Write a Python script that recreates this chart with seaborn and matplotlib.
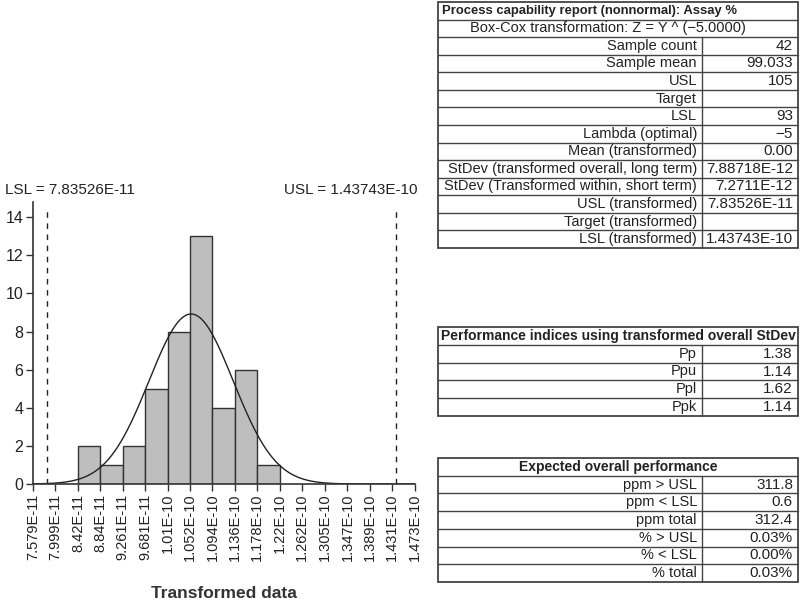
import numpy as np
import pandas as pd
import matplotlib
matplotlib.use("Agg")
import matplotlib.pyplot as plt
from matplotlib import font_manager
import seaborn as sns

sns.set_theme(style="white")
names = {f.name for f in font_manager.fontManager.ttflist}
FONT = "Liberation Sans Narrow" if "Liberation Sans Narrow" in names else "Liberation Sans"
plt.rcParams["font.family"] = [FONT, "DejaVu Sans"]

# ---------------- data ----------------
tick_labels = ["7.579E-11", "7.999E-11", "8.42E-11", "8.84E-11", "9.261E-11", "9.681E-11",
               "1.01E-10", "1.052E-10", "1.094E-10", "1.136E-10", "1.178E-10", "1.22E-10",
               "1.262E-10", "1.305E-10", "1.347E-10", "1.389E-10", "1.431E-10", "1.473E-10"]
bin_edges = [8.42e-11, 8.84e-11, 9.261e-11, 9.681e-11, 1.01e-10, 1.052e-10,
             1.094e-10, 1.136e-10, 1.178e-10, 1.22e-10]
bin_counts = [2, 1, 2, 5, 8, 13, 4, 6, 1]
lsl_value = 7.83526e-11
usl_value = 1.43743e-10
curve_mean = 1.0541e-10
curve_sd = 7.88718e-12
sample_n = 42
y_ticks = [0, 2, 4, 6, 8, 10, 12, 14]

t1_title = "Process capability report (nonnormal): Assay %"
t1_sub = "Box-Cox transformation: Z = Y ^ (\u22125.0000)"
t1_labels = ["Sample count", "Sample mean", "USL", "Target", "LSL", "Lambda (optimal)",
             "Mean (transformed)", "StDev (transformed overall, long term)",
             "StDev (Transformed within, short term)", "USL (transformed)",
             "Target (transformed)", "LSL (transformed)"]
t1_values = ["42", "99.033", "105", "", "93", "\u22125", "0.00", "7.88718E-12",
             "7.2711E-12", "7.83526E-11", "", "1.43743E-10"]
t2_title = "Performance indices using transformed overall StDev"
t2_labels = ["Pp", "Ppu", "Ppl", "Ppk"]
t2_values = ["1.38", "1.14", "1.62", "1.14"]
t3_title = "Expected overall performance"
t3_labels = ["ppm > USL", "ppm < LSL", "ppm total", "% > USL", "% < LSL", "% total"]
t3_values = ["311.8", "0.6", "312.4", "0.03%", "0.00%", "0.03%"]

# ---------------- figure ----------------
W, H = 800, 605
fig = plt.figure(figsize=(W / 100, H / 100), dpi=100)
fig.patch.set_facecolor("white")
TXT = "#222222"

def frac(x0, y0, x1, y1):
    return [x0 / W, 1 - y1 / H, (x1 - x0) / W, (y1 - y0) / H]

ax = fig.add_axes(frac(33, 202, 414.7, 484))
tick_vals = [float(t) for t in tick_labels]
centers = [(a + b) / 2 for a, b in zip(bin_edges[:-1], bin_edges[1:])]
df = pd.DataFrame({"z": centers, "n": bin_counts})
sns.histplot(data=df, x="z", weights="n", bins=bin_edges, ax=ax,
             color="#bebebe", edgecolor="#333333", linewidth=1.0, alpha=1.0)

bw = np.mean(np.diff(bin_edges))
xs = np.linspace(tick_vals[0], tick_vals[-1], 400)
ys = sample_n * bw * np.exp(-0.5 * ((xs - curve_mean) / curve_sd) ** 2) / (curve_sd * np.sqrt(2 * np.pi))
sns.lineplot(x=xs, y=ys, ax=ax, color="#222222", linewidth=1.0)

for v in (lsl_value, usl_value):
    ax.axvline(v, ymin=0, ymax=0.975, color="#222222", linestyle=(0, (4, 4)), linewidth=1.0)

ax.set_xlim(tick_vals[0], tick_vals[-1])
ax.set_ylim(0, 14.8)
ax.set_xticks(tick_vals)
ax.set_xticklabels(tick_labels, rotation=90, fontsize=10.5, color=TXT)
ax.set_yticks(y_ticks)
ax.set_yticklabels([str(v) for v in y_ticks], fontsize=11.5, color=TXT)
ax.tick_params(axis="both", direction="out", length=5, width=1, color="#333333",
               bottom=True, left=True, pad=2)
for s in ("top", "right"):
    ax.spines[s].set_visible(False)
for s in ("left", "bottom"):
    ax.spines[s].set_color("#333333")
    ax.spines[s].set_linewidth(1.2)
ax.set_xlabel("Transformed data", fontsize=12.5, fontweight="bold", color="#333333", labelpad=18)
ax.set_ylabel("")
ax.grid(False)

# ---------------- overlay for texts and tables ----------------
ov = fig.add_axes([0, 0, 1, 1], zorder=5)
ov.set_xlim(0, W)
ov.set_ylim(H, 0)
ov.axis("off")
ov.patch.set_alpha(0)

ov.text(5, 190, f"LSL = {lsl_value:.5E}", fontsize=11, color=TXT, va="center", ha="left")
ov.text(418, 190, f"USL = {usl_value:.5E}", fontsize=11, color=TXT, va="center", ha="right")

XL, XD, XR = 438, 702, 798
LC = "#444444"
FS = 10.5
FV = 11

def table(y0, rh, title, labels, values, centered_title, sub=None, tfs=10):
    nrows = 1 + (1 if sub else 0) + len(labels)
    y1 = y0 + nrows * rh
    ov.add_patch(plt.Rectangle((XL, y0), XR - XL, y1 - y0, fill=False, ec=LC, lw=1.3))
    for i in range(1, nrows):
        ov.plot([XL, XR], [y0 + i * rh, y0 + i * rh], color=LC, lw=1.0)
    if centered_title:
        ov.text((XL + XR) / 2, y0 + rh / 2, title, ha="center", va="center",
                fontsize=tfs, fontweight="bold", color=TXT)
    else:
        ov.text(XL + 4, y0 + rh / 2, title, ha="left", va="center",
                fontsize=tfs, fontweight="bold", color=TXT)
    start = 1
    if sub:
        ov.text(XL + 32, y0 + 1.5 * rh, sub, ha="left", va="center", fontsize=FS, color=TXT)
        start = 2
    ov.plot([XD, XD], [y0 + start * rh, y1], color=LC, lw=1.0)
    for j, (lab, val) in enumerate(zip(labels, values)):
        yc = y0 + (start + j + 0.5) * rh
        ov.text(XD - 5, yc, lab, ha="right", va="center", fontsize=FS, color=TXT)
        ov.text(XR - 5, yc, val, ha="right", va="center", fontsize=FV, color=TXT)

table(2, 17.57, t1_title, t1_labels, t1_values, False, sub=t1_sub, tfs=9.4)
table(327, 17.8, t2_title, t2_labels, t2_values, True, tfs=10)
table(458, 17.7, t3_title, t3_labels, t3_values, True, tfs=10)

fig.savefig("out.png", dpi=100, facecolor="white")
